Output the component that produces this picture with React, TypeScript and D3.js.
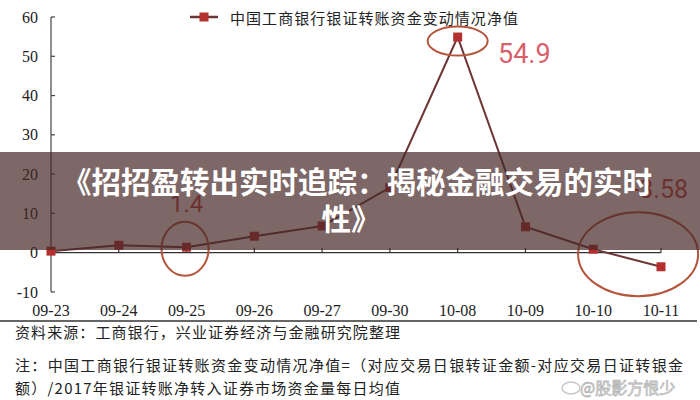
import React from "react";
import * as d3 from "d3";

const dates = ["09-23", "09-24", "09-25", "09-26", "09-27", "09-30", "10-08", "10-09", "10-10", "10-11"];
const values = [0.4, 1.9, 1.4, 4.2, 6.8, 16.6, 54.9, 6.6, 0.9, -3.58];
const yTicks = [-10, 0, 10, 20, 30, 40, 50, 60];
const legendLabel = "中国工商银行银证转账资金变动情况净值";
const bannerLines = ["《招招盈转出实时追踪：揭秘金融交易的实时", "性》"];
const notes = [
  "资料来源：工商银行，兴业证券经济与金融研究院整理",
  "注：中国工商银行银证转账资金变动情况净值=（对应交易日银转证金额-对应交易日证转银金",
  "额）/2017年银证转账净转入证券市场资金量每日均值",
];
const calloutLabels = [
  { date: "10-08", text: "54.9" },
  { date: "09-25", text: "1.4" },
  { date: "10-11", text: "-3.58" },
];
const watermark = "@股影方恨少";

const W = 700;
const H = 400;

export default function App() {
  const x = d3.scalePoint<string>().domain(dates).range([51, 661]);
  const y = d3.scaleLinear().domain([-10, 60]).range([292, 17]);
  const line = d3
    .line<number>()
    .x((_, i) => x(dates[i]) as number)
    .y((d) => y(d));

  const serif = "'Liberation Serif', 'DejaVu Serif', serif";
  const cjk = "'Noto Sans CJK SC', 'Noto Sans', sans-serif";
  const lineColor = "#6e3535";
  const markerColor = "#b3302f";
  const circleColor = "#b4553c";

  const xv = (d: string) => x(d) as number;
  const val = (d: string) => values[dates.indexOf(d)];

  return (
    <svg width={W} height={H} style={{ position: "absolute", left: 0, top: 0, background: "#fff" }}>
      <rect x={0} y={0} width={W} height={H} fill="#fff" />
      {/* y axis */}
      <line x1={51} x2={51} y1={y(60)} y2={y(-10)} stroke="#444" strokeWidth={1.2} />
      {yTicks.map((t) => (
        <g key={t}>
          <line x1={51} x2={55} y1={y(t)} y2={y(t)} stroke="#444" strokeWidth={1.2} />
          <text x={38} y={y(t)} dy="0.35em" textAnchor="end" fontFamily={serif} fontSize={16} fill="#222">
            {t}
          </text>
        </g>
      ))}
      {/* x axis at zero */}
      <line x1={51} x2={661} y1={y(0)} y2={y(0)} stroke="#333" strokeWidth={1.2} />
      {dates.map((d) => (
        <g key={d}>
          <line x1={xv(d)} x2={xv(d)} y1={y(0)} y2={y(0) - 5} stroke="#333" strokeWidth={1.2} />
          <text x={xv(d)} y={316} textAnchor="middle" fontFamily={serif} fontSize={16} fill="#222">
            {d}
          </text>
        </g>
      ))}
      {/* series */}
      <path d={line(values) || ""} fill="none" stroke={lineColor} strokeWidth={2} />
      {values.map((v, i) => (
        <rect key={i} x={xv(dates[i]) - 4.5} y={y(v) - 4.5} width={9} height={9} fill={markerColor} />
      ))}
      {/* legend */}
      <line x1={190} x2={218} y1={17} y2={17} stroke={lineColor} strokeWidth={2.5} />
      <rect x={199.5} y={12.5} width={9} height={9} fill={markerColor} />
      <text x={230} y={24} fontFamily={cjk} fontSize={15} fill="#222" textLength={288} lengthAdjust="spacing">
        {legendLabel}
      </text>
      {/* callout ellipses */}
      <ellipse cx={xv("10-08")} cy={y(val("10-08")) + 4} rx={30} ry={14.5} fill="none" stroke={circleColor} strokeWidth={2} />
      <ellipse cx={xv("09-25") - 1.5} cy={y(val("09-25")) + 1.5} rx={23.5} ry={27} fill="none" stroke={circleColor} strokeWidth={2} />
      <ellipse cx={(xv("10-10") + xv("10-11")) / 2 + 11} cy={y(val("10-10")) + 5} rx={60} ry={42} fill="none" stroke={circleColor} strokeWidth={2} />
      {/* callout labels */}
      <text x={498} y={63} fontFamily="Roboto, 'Noto Sans', sans-serif" fontSize={27} fill="#d9616c">
        {calloutLabels[0].text}
      </text>
      <text x={xv(calloutLabels[1].date)} y={212} textAnchor="middle" fontFamily="Roboto, 'Noto Sans', sans-serif" fontSize={24} fill="#c4464b">
        {calloutLabels[1].text}
      </text>
      <text x={688} y={198} textAnchor="end" fontFamily="Roboto, 'Noto Sans', sans-serif" fontSize={25} fill="#c04848">
        {calloutLabels[2].text}
      </text>
      {/* separator and notes */}
      <line x1={0} x2={697} y1={321} y2={321} stroke="#333" strokeWidth={1.5} />
      <text x={15} y={338} fontFamily={cjk} fontSize={15} fill="#222" textLength={385} lengthAdjust="spacing">
        {notes[0]}
      </text>
      <text x={15} y={371} fontFamily={cjk} fontSize={15} fill="#222" textLength={668} lengthAdjust="spacing">
        {notes[1]}
      </text>
      <text x={15} y={394} fontFamily={cjk} fontSize={15} fill="#222" textLength={385} lengthAdjust="spacing">
        {notes[2]}
      </text>
      {/* watermark */}
      <ellipse cx={571} cy={388} rx={9} ry={6} fill="none" stroke="#c8c8c8" strokeWidth={1.5} />
      <text x={580} y={394} fontFamily={cjk} fontSize={16} fill="#f4f4f4" stroke="#b8b8b8" strokeWidth={0.8}>
        {watermark}
      </text>
      {/* banner overlay */}
      <rect x={0} y={152} width={W} height={98} fill="rgb(70,40,38)" fillOpacity={0.7} />
      <text x={357} y={193} textAnchor="middle" fontFamily={cjk} fontWeight={700} fontSize={29.5} fill="#fff">
        {bannerLines[0]}
      </text>
      <text x={351} y={230} textAnchor="middle" fontFamily={cjk} fontWeight={700} fontSize={29.5} fill="#fff">
        {bannerLines[1]}
      </text>
    </svg>
  );
}
